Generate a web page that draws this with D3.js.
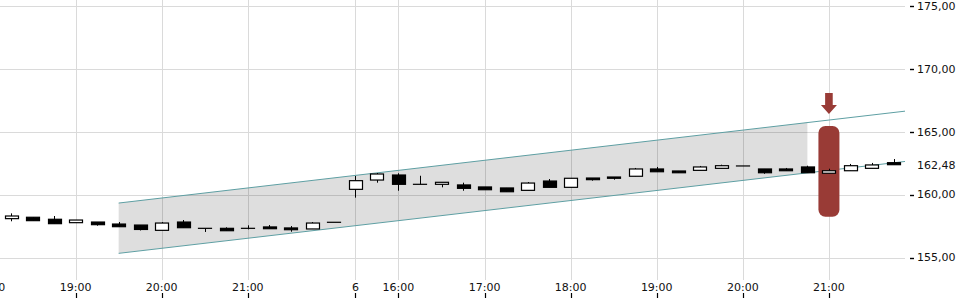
<!DOCTYPE html>
<html>
<head>
<meta charset="utf-8">
<script src="https://cdn.jsdelivr.net/npm/d3@7"></script>
<style>
  body { margin: 0; background: #fff; }
  svg { display: block; font-family: "DejaVu Sans", sans-serif; }
</style>
</head>
<body>
<div id="chart"></div>
<script>
// 15-Minuten-Slots, zwei Handelstage
const slots = [
  "5 18:00","5 18:15","5 18:30","5 18:45","5 19:00","5 19:15","5 19:30","5 19:45",
  "5 20:00","5 20:15","5 20:30","5 20:45","5 21:00","5 21:15","5 21:30","5 21:45","5 22:00",
  "6 15:30","6 15:45","6 16:00","6 16:15","6 16:30","6 16:45","6 17:00","6 17:15",
  "6 17:30","6 17:45","6 18:00","6 18:15","6 18:30","6 18:45","6 19:00","6 19:15",
  "6 19:30","6 19:45","6 20:00","6 20:15","6 20:30","6 20:45","6 21:00","6 21:15",
  "6 21:30","6 21:45"
];

// Kerzen ab 5 18:15
const candleSlots = slots.slice(1);
const opens  = [158.09,158.20,158.04,157.77,157.82,157.66,157.58,157.16,157.82,157.32,157.32,157.32,157.43,157.35,157.27,157.80,
                160.42,161.16,161.56,160.82,160.82,160.77,160.61,160.53,160.34,161.08,160.58,161.32,161.40,161.46,162.04,161.88,
                161.93,162.09,162.28,162.04,162.04,162.20,161.70,161.90,162.09,162.54];
const highs  = [158.51,158.20,158.30,157.98,157.82,157.82,157.58,157.82,157.98,157.32,157.40,157.56,157.58,157.50,157.82,157.80,
                161.48,161.72,161.70,161.50,160.98,160.95,160.61,160.53,161.00,161.24,161.30,161.32,161.40,162.12,162.20,161.88,
                162.28,162.38,162.28,162.04,162.12,162.30,162.06,162.44,162.52,162.83];
const lows   = [157.88,157.93,157.69,157.77,157.53,157.45,157.15,157.16,157.37,157.03,157.13,157.24,157.29,157.05,157.27,157.80,
                159.76,160.95,160.31,160.82,160.58,160.31,160.39,160.23,160.34,160.58,160.58,161.11,161.19,161.46,161.82,161.74,
                161.93,162.09,162.28,161.66,161.90,161.74,161.70,161.90,162.09,162.38];
const closes = [158.30,157.93,157.69,157.98,157.61,157.45,157.23,157.74,157.37,157.32,157.13,157.32,157.29,157.21,157.74,157.80,
                161.11,161.64,160.82,160.82,160.98,160.50,160.39,160.23,160.92,160.58,161.30,161.19,161.30,162.04,161.82,161.74,
                162.20,162.30,162.28,161.74,161.90,161.74,161.90,162.30,162.36,162.38];

// Trendkanal
const channelSlot = ["5 19:30", "6 20:45"];
const channelUpper = [159.33, 165.73];
const channelLower = [155.33, 161.73];

// Signal
const signalSlot = "6 21:00";
const signalRange = [158.24, 165.46];

const yTicks = [155, 160, 165, 170, 175];
const lastPrice = 162.48;
const tickSlots  = ["5 18:00","5 19:00","5 20:00","5 21:00","6 15:30","6 16:00","6 17:00","6 18:00","6 19:00","6 20:00","6 21:00"];
const tickLabels = ["18:00","19:00","20:00","21:00","6","16:00","17:00","18:00","19:00","20:00","21:00"];

const width = 960, height = 300;
const plotRight = 905;

const de = d3.formatLocale({ decimal: ",", thousands: ".", grouping: [3], currency: ["", " €"] });
const fmt = de.format(".2f");

const idx = s => slots.indexOf(s);
const x = d3.scaleLinear().domain([0, slots.length - 1]).range([-10.5, 893.5]);
const y = d3.scaleLinear().domain([155, 175]).range([257.5, 6]);
const step = x(1) - x(0);
const bodyW = 13;

const svg = d3.select("#chart").append("svg")
  .attr("width", width)
  .attr("height", height);

svg.append("defs").append("clipPath").attr("id", "plot")
  .append("rect").attr("x", 0).attr("y", 0).attr("width", plotRight).attr("height", height);

// Gitter
svg.append("g").selectAll("line")
  .data(yTicks).join("line")
  .attr("x1", 0).attr("x2", plotRight)
  .attr("y1", d => Math.round(y(d)) + 0.5).attr("y2", d => Math.round(y(d)) + 0.5)
  .attr("stroke", "#dadada");

svg.append("g").selectAll("line")
  .data(tickSlots).join("line")
  .attr("x1", d => Math.round(x(idx(d))) + 0.5).attr("x2", d => Math.round(x(idx(d))) + 0.5)
  .attr("y1", 0).attr("y2", 280)
  .attr("stroke", "#dadada");

const plot = svg.append("g").attr("clip-path", "url(#plot)");

// Kanal: Fläche bis zum Ende, Linien bis an den Rand
const c0 = idx(channelSlot[0]), c1 = idx(channelSlot[1]);
const upper = d3.scaleLinear().domain([c0, c1]).range(channelUpper);
const lower = d3.scaleLinear().domain([c0, c1]).range(channelLower);
const xEnd = x.invert(plotRight);

plot.append("path")
  .attr("d", d3.area().x(d => x(d)).y0(d => y(lower(d))).y1(d => y(upper(d)))([c0, c1]))
  .attr("fill", "rgba(0,0,0,0.13)");

[upper, lower].forEach(f => {
  plot.append("path")
    .attr("d", d3.line().x(d => x(d)).y(d => y(f(d)))([c0, xEnd]))
    .attr("fill", "none")
    .attr("stroke", "#5e9fa3")
    .attr("stroke-width", 1);
});

// Signalmarke
const sx = x(idx(signalSlot));
const sTop = y(signalRange[1]), sBot = y(signalRange[0]);
plot.append("rect")
  .attr("x", sx - 10.5).attr("y", sTop)
  .attr("width", 21).attr("height", sBot - sTop)
  .attr("rx", 7).attr("ry", 7)
  .attr("fill", "#993b36");

plot.append("path")
  .attr("d", `M${sx - 3.8},${sTop - 33} H${sx + 3.8} V${sTop - 21} H${sx + 8} L${sx},${sTop - 12} L${sx - 8},${sTop - 21} H${sx - 3.8} Z`)
  .attr("fill", "#993b36");

// Kerzen
const candles = candleSlots.map((s, i) => ({
  i: idx(s), o: opens[i], h: highs[i], l: lows[i], c: closes[i]
}));

const cg = plot.append("g").selectAll("g").data(candles).join("g");

cg.append("line")
  .attr("x1", d => Math.round(x(d.i)) + 0.5).attr("x2", d => Math.round(x(d.i)) + 0.5)
  .attr("y1", d => y(d.h)).attr("y2", d => y(d.l))
  .attr("stroke", "#000");

cg.append("rect")
  .attr("x", d => Math.round(x(d.i) - bodyW / 2) + 0.5)
  .attr("y", d => y(Math.max(d.o, d.c)))
  .attr("width", bodyW)
  .attr("height", d => Math.max(0.01, Math.abs(y(d.o) - y(d.c))))
  .attr("fill", d => d.c >= d.o ? "#fff" : "#000")
  .attr("stroke", "#000")
  .attr("stroke-width", 1.2);

// y-Achse rechts
const ya = svg.append("g");
ya.selectAll("line")
  .data(yTicks).join("line")
  .attr("x1", 910).attr("x2", 914)
  .attr("y1", d => Math.round(y(d)) + 0.5).attr("y2", d => Math.round(y(d)) + 0.5)
  .attr("stroke", "#000").attr("stroke-width", 1.4);
ya.selectAll("text")
  .data(yTicks).join("text")
  .attr("x", 917).attr("y", d => y(d))
  .attr("dy", "0.35em")
  .attr("font-size", 11)
  .attr("fill", "#111")
  .text(d => fmt(d));
ya.append("text")
  .attr("x", 917).attr("y", y(lastPrice) + 2)
  .attr("dy", "0.35em")
  .attr("font-size", 11)
  .attr("fill", "#111")
  .text(fmt(lastPrice));

// x-Achse unten
const xa = svg.append("g");
xa.selectAll("line")
  .data(tickSlots).join("line")
  .attr("x1", d => Math.round(x(idx(d))) + 0.5).attr("x2", d => Math.round(x(idx(d))) + 0.5)
  .attr("y1", 293).attr("y2", 298)
  .attr("stroke", "#000").attr("stroke-width", 1.2);
xa.selectAll("text")
  .data(tickSlots).join("text")
  .attr("x", d => x(idx(d)))
  .attr("y", 291)
  .attr("text-anchor", "middle")
  .attr("font-size", 11)
  .attr("fill", "#111")
  .text((d, i) => tickLabels[i]);
</script>
</body>
</html>
